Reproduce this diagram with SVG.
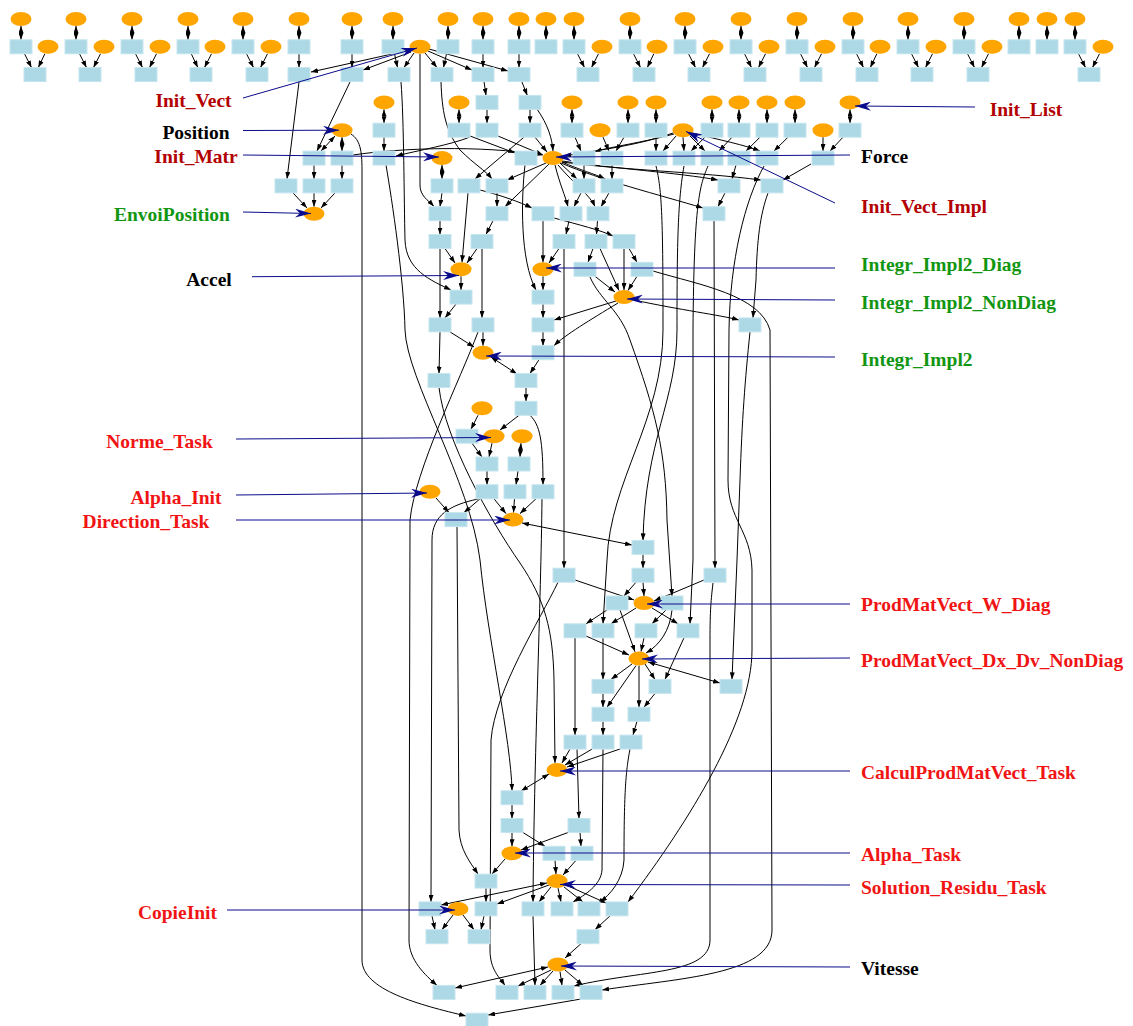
<svg xmlns="http://www.w3.org/2000/svg" width="1133" height="1026" viewBox="0 0 1133 1026">
<style>
.r{fill:#add8e6;stroke:#c6e6ef;stroke-width:1}
.e{fill:#ffa500}
.ed path{fill:none;stroke:#000;stroke-width:1;marker-end:url(#a)}
.ed path.bi{marker-start:url(#a)}
.bl path{fill:none;stroke:#0c0c8c;stroke-width:1;marker-end:url(#b)}
.t{font-family:"Liberation Serif","Times New Roman",serif;font-weight:bold;font-size:19.5px}
.dr{fill:#b30000}.rd{fill:#f01414}.gn{fill:#129612}.bk{fill:#000}
</style>
<defs>
<marker id="a" markerUnits="userSpaceOnUse" markerWidth="7" markerHeight="5" refX="7" refY="2.5" orient="auto-start-reverse"><path d="M0,0 L7,2.5 L0,5 z" fill="#000"/></marker>
<marker id="b" markerUnits="userSpaceOnUse" markerWidth="16" markerHeight="9" refX="16" refY="4.5" orient="auto"><path d="M0,0 L16,4.5 L0,9 L5,4.5 z" fill="#0a0a8c"/></marker>
</defs>
<rect width="1133" height="1026" fill="#fff"/>
<g id="connectors" class="ed">
<path class="bi" d="M21,26 L21,39.8"/><path class="bi" d="M76,26 L76,39.8"/><path class="bi" d="M132,26 L132,39.8"/><path class="bi" d="M188,26 L188,39.8"/><path class="bi" d="M243,26 L243,39.8"/><path class="bi" d="M299,26 L299,39.8"/><path class="bi" d="M352,26 L352,39.8"/><path class="bi" d="M393,26 L393,39.8"/><path class="bi" d="M448,26 L448,39.8"/><path class="bi" d="M483,26 L483,39.8"/><path class="bi" d="M519,26 L519,39.8"/><path class="bi" d="M546,26 L546,39.8"/><path class="bi" d="M574,26 L574,39.8"/><path class="bi" d="M630,26 L630,39.8"/><path class="bi" d="M685,26 L685,39.8"/><path class="bi" d="M741,26 L741,39.8"/><path class="bi" d="M797,26 L797,39.8"/><path class="bi" d="M853,26 L853,39.8"/><path class="bi" d="M908,26 L908,39.8"/><path class="bi" d="M964,26 L964,39.8"/><path class="bi" d="M1019,26 L1019,39.8"/><path class="bi" d="M1047,26 L1047,39.8"/><path class="bi" d="M1075,26 L1075,39.8"/>
<path d="M24.5,53.8 L31.5,67.6"/><path d="M44.8,53.8 L38.3,67.6"/>
<path d="M79.5,53.8 L86.5,67.6"/><path d="M100.5,53.8 L93.5,67.6"/>
<path d="M135.5,53.8 L142.5,67.6"/><path d="M156.5,53.8 L149.5,67.6"/>
<path d="M191.3,53.8 L197.8,67.6"/><path d="M211.5,53.8 L204.5,67.6"/>
<path d="M246.5,53.8 L253.5,67.6"/><path d="M267.5,53.8 L260.5,67.6"/>
<path d="M577.5,53.8 L584.5,67.6"/><path d="M598.5,53.8 L591.5,67.6"/>
<path d="M633.5,53.8 L640.5,67.6"/><path d="M653.8,53.8 L647.3,67.6"/>
<path d="M688.5,53.8 L695.5,67.6"/><path d="M709.5,53.8 L702.5,67.6"/>
<path d="M744.5,53.8 L751.5,67.6"/><path d="M765.5,53.8 L758.5,67.6"/>
<path d="M800.5,53.8 L807.5,67.6"/><path d="M821.5,53.8 L814.5,67.6"/>
<path d="M856.5,53.8 L863.5,67.6"/><path d="M876.8,53.8 L870.3,67.6"/>
<path d="M911.5,53.8 L918.5,67.6"/><path d="M932.5,53.8 L925.5,67.6"/>
<path d="M967.5,53.8 L974.5,67.6"/><path d="M988.5,53.8 L981.5,67.6"/>
<path d="M1078.5,53.8 L1085.5,67.6"/><path d="M1099.5,53.8 L1092.5,67.6"/>
<path d="M299,53.8 L299,67.6"/><path d="M352,53.8 L352,67.6"/><path d="M394.5,53.8 L397.5,67.6"/><path d="M446.5,53.8 L443.5,67.6"/><path d="M483,53.8 L483,67.6"/><path d="M519,53.8 L519,67.6"/>
<path d="M410,50 L311,72"/><path d="M411,52 L363,70"/><path d="M414,53 L404,67.6"/><path d="M425,53 L437,67.6"/><path d="M428,51 L472,70"/><path d="M429,49 L508,71"/>
<path d="M420,54 L420,185 C420,196 428,200 434,206.5"/>
<path d="M484,81.6 L486,95.4"/><path d="M521.8,81.6 L527.3,95.4"/>
<path d="M299,82 L287,178.9"/><path d="M350,82 L317,151"/>
<path d="M401,82 C404,120 404,200 405,240 C406,270 430,280 451,290"/>
<path d="M441,82 C442,110 445,130 460,150 C475,165 485,170 492,178.9"/>
<path class="bi" d="M384,109.4 L384,123.2"/><path class="bi" d="M459,109.4 L459,123.2"/><path d="M487,109.4 L487,123.2"/><path d="M530,109.4 L530,123.2"/>
<path class="bi" d="M572,109.4 L572,123.2"/><path class="bi" d="M628,109.4 L628,123.2"/><path class="bi" d="M656,109.4 L656,123.2"/><path class="bi" d="M712,109.4 L712,123.2"/><path class="bi" d="M739,109.4 L739,123.2"/><path class="bi" d="M767,109.4 L767,123.2"/><path class="bi" d="M795,109.4 L795,123.2"/><path class="bi" d="M850,109.4 L850,123.2"/>
<path d="M537,109 C548,125 552,138 553,151"/>
<path d="M384,137.2 L384,151.1"/>
<path class="bi" d="M335,136 L321,151.1"/><path class="bi" d="M342,137.2 L342,151.1"/>
<path d="M470,136 L515,153"/><path d="M498,136 L543,155"/><path d="M535,137.2 L547,152"/><path d="M524,137.2 L475,178.9"/>
<path d="M470,137 C450,145 420,150 396,156"/>
<path d="M575,137.2 L581,151.1"/><path d="M603,137.2 L609,151.1"/><path d="M624,137.2 L616,151.1"/><path d="M656,137.2 L656,151.1"/>
<path d="M676,136 L663,151.1"/><path d="M683,137.2 L684,151.1"/><path d="M690,136 L705,151.1"/>
<path d="M705,137.2 L691,151.1"/><path d="M732,137.2 L719,151.1"/><path d="M760,137.2 L746,151.1"/><path d="M788,137.2 L774,151.1"/>
<path d="M823,137.2 L823,151.1"/><path d="M843,137.2 L830,151.1"/>
<path d="M673,133 C640,145 600,150 564,156"/><path d="M674,134 C640,143 615,146 595,151.5"/><path d="M692,133 C720,140 745,145 760,151.1"/>
<path d="M353,155 C400,148 480,145 542,155"/>
<path d="M351,134 C360,140 362,150 362,170 L362,960 C362,990 420,1005 466,1016"/>
<path d="M386,165 C392,200 404,280 405,330 C407,380 470,480 480,560 C488,640 511,740 512,790.7"/>
<path d="M314,165.1 L314,178.9"/><path d="M342,165.1 L342,178.9"/><path class="bi" d="M442,165.1 L442,178.9"/><path d="M584,165.1 L584,178.9"/><path d="M612,165.1 L612,178.9"/>
<path d="M811,164 L783,180"/><path d="M736,165.1 L732,178.9"/>
<path d="M562,162 C620,170 700,172 761,180"/><path d="M562,161 C610,168 680,173 718,180"/><path d="M561,163 C600,180 660,195 703,208"/>
<path d="M560,163 L577,178.9"/><path d="M562,162 C580,170 595,174 605,178.9"/>
<path d="M546,163 L507,180"/><path d="M549,164 L505,206.7"/>
<path d="M555,165 C560,185 565,195 568,206.7"/><path d="M558,165 C575,185 590,195 595,206.7"/>
<path d="M293,192.9 L307,208"/><path d="M314,192.9 L314,206.7"/><path d="M335,192.9 L321,208"/>
<path d="M442,192.9 L440,206.7"/><path d="M497,192.9 L497,206.7"/><path d="M581,192.9 L574,206.7"/><path d="M609,192.9 L601,206.7"/><path d="M725,192.9 L718,206.7"/>
<path d="M468,192.9 L462,262.3"/><path d="M480,190 C500,195 520,202 532,208"/>
<path d="M440,220.7 L440,234.5"/><path d="M493,220.7 L486,234.5"/><path d="M569,220.7 L566,234.5"/><path d="M597.5,220.7 L596.5,234.5"/>
<path d="M543,220.7 L543,262.3"/><path d="M554,218 C580,225 600,230 613,236"/>
<path d="M445,248.5 L455,263"/><path d="M477,248.5 L467,263"/><path d="M559,248.5 L549,263"/><path d="M593,248.5 L588,262.3"/><path d="M600,248.5 L619,290.5"/><path d="M624,248.5 L624,290.1"/><path d="M629,248.5 L637,262.3"/>
<path d="M525,165 C521,200 520,260 536,290.1"/>
<path d="M440,248.5 L440,317.9"/><path d="M482,248.5 L482,317.9"/>
<path d="M564,248.5 L564,568.2"/>
<path d="M461,276.3 L461,290.1"/><path d="M543,276.3 L543,290.1"/><path d="M595,276.3 L615,292"/><path d="M637,276.3 L628,290.5"/>
<path d="M653,271 C700,285 760,295 770,330 L772,930 C772,975 680,978 602,990"/>
<path d="M456,304.1 L445,317.9"/><path d="M543,304.1 L543,317.9"/>
<path d="M616,301 L554,320"/><path d="M618,303 C590,320 565,335 554,345.7"/><path d="M634,300 C680,310 720,315 739,320"/>
<path d="M768,193 C760,215 757,240 756,280 L753,317.9"/>
<path d="M764,166 C745,200 730,260 729,330 L728,480 C728,520 751,530 752,570 L752,650 C752,720 690,820 628,902"/>
<path d="M750,332 C745,380 742,420 740,480 L737,560 L732,679.4"/>
<path d="M656,166 C662,190 663,220 663,330 C663,420 610,480 607,560 L603,623.8"/>
<path d="M684,166 C678,200 677,240 677,330 C677,400 645,440 643,540.4"/>
<path d="M590,277 C600,300 620,310 630,340 C655,410 666,450 667,520 L672,596"/>
<path d="M708,166 C700,185 694,200 693,330 L693,560 L690,623.8"/>
<path d="M714,221 L715,568.2"/>
<path d="M450,331.9 L474,347"/><path d="M483,331.9 L483,345.7"/><path d="M543,331.9 L543,345.7"/>
<path d="M440,331.9 L439,373.5"/><path d="M539,359.7 L530,373.5"/>
<path class="bi" d="M491,357 L517,374"/>
<path d="M478,332 C460,380 415,470 410,520 L409,940 C409,960 425,975 437,985.4"/>
<path d="M439,387.5 C445,440 490,520 520,563 C545,600 553,630 554,680 L555,762.9"/>
<path d="M526,387.5 L526,401.3"/>
<path d="M519,415.3 L500,430"/><path d="M478,415.3 L471,429.2"/>
<path d="M530,415.3 C540,425 543,440 543,484.8"/>
<path d="M472,443.2 L482,457"/><path d="M492,443.2 L489,457"/><path class="bi" d="M521,443.2 L520,457"/>
<path d="M487,471 L487,484.8"/><path d="M518,471 L516,484.8"/>
<path d="M494,498.8 L506,513.6"/><path d="M514.5,498.8 L513.5,512.6"/><path d="M536,498.8 L520,513.6"/>
<path d="M436,498 L449,512.6"/><path d="M480,498.8 L464,512.6"/>
<path d="M478,499 C450,505 432,515 432,540 L431,901.9"/>
<path d="M457,526.6 L459,830 C460,850 470,862 478,874.1"/>
<path d="M542,498.8 C541,600 534,760 533,901.9"/>
<path class="bi" d="M522,523 L632,545"/>
<path d="M643,554.4 L643,568.2"/>
<path d="M558,582.2 C540,620 495,690 491,740 L490,950 C490,970 500,978 505,985.4"/>
<path d="M575,580 L634,600"/><path d="M643,582.2 L644,596"/><path d="M636,582.2 L624,596"/><path d="M704,580 L654,601"/>
<path d="M607,610 L586,623.8"/><path d="M636,608 L611,623.8"/><path d="M652,608 L678,623.8"/><path d="M666,610 L652,623.8"/>
<path d="M620,610 L635,651.8"/><path d="M672,610 C670,630 660,645 646,653"/><path d="M644,637.8 L641,651.6"/><path d="M586,636 L629,655"/>
<path d="M575,637.8 L575,735.1"/><path d="M603,637.8 L603,679.4"/>
<path d="M632,664 L611,679.4"/><path d="M636,665.6 L607,707.3"/><path d="M639,665.6 L639,707.3"/><path d="M645,664 L655,679.4"/><path d="M684,637.8 L665,679.4"/>
<path class="bi" d="M648,662 L720,683"/>
<path d="M603,693.4 L603,707.3"/><path d="M655,693.4 L644,707.3"/>
<path d="M603,721.3 L603,735.1"/><path d="M637,721.3 L633,735.1"/>
<path d="M713,583 C711,600 710,610 710,640 L710,940 C710,975 640,970 574,986"/>
<path d="M570,749.1 L562,763"/><path d="M592,749.1 L565,765"/><path d="M620,749 L567,767"/>
<path d="M577,749.1 L579,818.5"/>
<path d="M603,749.1 L602,870 C601,885 585,895 573,901.9"/>
<path d="M630,749 C626,770 624,790 624,860 C623,880 610,895 600,901.9"/>
<path class="bi" d="M549,774 L521,791"/>
<path d="M512,804.7 L512,818.5"/>
<path d="M512,832.5 L512,846.3"/><path d="M568,832.5 L521,850"/><path d="M523,832.5 L545,846.3"/><path d="M580,832.5 L581,846.3"/>
<path d="M505,859 L492,874.1"/><path d="M555,860.3 L556,874.1"/><path d="M576,860.3 L563,875"/>
<path d="M486,888.1 L486,901.9"/>
<path class="bi" d="M547,883 L441,905"/><path d="M549,885 L497,904"/><path d="M551,887 L539,901.9"/><path d="M558,888.1 L561,901.9"/><path d="M564,887 L583,901.9"/><path d="M566,885 L606,903"/>
<path d="M533,915.9 L535,985.4"/>
<path d="M432,915.9 L435,929.7"/><path d="M453,915 L442,929.7"/><path d="M463,915 L474,929.7"/><path d="M484,915.9 L481,929.7"/><path d="M610,915.9 L595,929.7"/>
<path d="M581,943.7 L565,958"/>
<path class="bi" d="M548,967 L455,988"/><path d="M551,970 L518,986"/><path d="M553,971 L540,985.4"/><path d="M560,971.5 L562,985.4"/><path d="M565,970 L583,985.4"/>
<path d="M581,999 L488,1015"/>
</g>
<g id="nodes">
<g id="e0_21"><ellipse class="e" cx="21" cy="19" rx="10.5" ry="7"/></g>
<g id="e0_76"><ellipse class="e" cx="76" cy="19" rx="10.5" ry="7"/></g>
<g id="e0_132"><ellipse class="e" cx="132" cy="19" rx="10.5" ry="7"/></g>
<g id="e0_188"><ellipse class="e" cx="188" cy="19" rx="10.5" ry="7"/></g>
<g id="e0_243"><ellipse class="e" cx="243" cy="19" rx="10.5" ry="7"/></g>
<g id="e0_299"><ellipse class="e" cx="299" cy="19" rx="10.5" ry="7"/></g>
<g id="e0_352"><ellipse class="e" cx="352" cy="19" rx="10.5" ry="7"/></g>
<g id="e0_393"><ellipse class="e" cx="393" cy="19" rx="10.5" ry="7"/></g>
<g id="e0_448"><ellipse class="e" cx="448" cy="19" rx="10.5" ry="7"/></g>
<g id="e0_483"><ellipse class="e" cx="483" cy="19" rx="10.5" ry="7"/></g>
<g id="e0_519"><ellipse class="e" cx="519" cy="19" rx="10.5" ry="7"/></g>
<g id="e0_546"><ellipse class="e" cx="546" cy="19" rx="10.5" ry="7"/></g>
<g id="e0_574"><ellipse class="e" cx="574" cy="19" rx="10.5" ry="7"/></g>
<g id="e0_630"><ellipse class="e" cx="630" cy="19" rx="10.5" ry="7"/></g>
<g id="e0_685"><ellipse class="e" cx="685" cy="19" rx="10.5" ry="7"/></g>
<g id="e0_741"><ellipse class="e" cx="741" cy="19" rx="10.5" ry="7"/></g>
<g id="e0_797"><ellipse class="e" cx="797" cy="19" rx="10.5" ry="7"/></g>
<g id="e0_853"><ellipse class="e" cx="853" cy="19" rx="10.5" ry="7"/></g>
<g id="e0_908"><ellipse class="e" cx="908" cy="19" rx="10.5" ry="7"/></g>
<g id="e0_964"><ellipse class="e" cx="964" cy="19" rx="10.5" ry="7"/></g>
<g id="e0_1019"><ellipse class="e" cx="1019" cy="19" rx="10.5" ry="7"/></g>
<g id="e0_1047"><ellipse class="e" cx="1047" cy="19" rx="10.5" ry="7"/></g>
<g id="e0_1075"><ellipse class="e" cx="1075" cy="19" rx="10.5" ry="7"/></g>
<g id="r1_21"><rect class="r" x="10" y="39.8" width="22" height="14"/></g>
<g id="r1_76"><rect class="r" x="65" y="39.8" width="22" height="14"/></g>
<g id="r1_132"><rect class="r" x="121" y="39.8" width="22" height="14"/></g>
<g id="r1_188"><rect class="r" x="177" y="39.8" width="22" height="14"/></g>
<g id="r1_243"><rect class="r" x="232" y="39.8" width="22" height="14"/></g>
<g id="r1_299"><rect class="r" x="288" y="39.8" width="22" height="14"/></g>
<g id="r1_352"><rect class="r" x="341" y="39.8" width="22" height="14"/></g>
<g id="r1_393"><rect class="r" x="382" y="39.8" width="22" height="14"/></g>
<g id="r1_448"><rect class="r" x="437" y="39.8" width="22" height="14"/></g>
<g id="r1_483"><rect class="r" x="472" y="39.8" width="22" height="14"/></g>
<g id="r1_519"><rect class="r" x="508" y="39.8" width="22" height="14"/></g>
<g id="r1_546"><rect class="r" x="535" y="39.8" width="22" height="14"/></g>
<g id="r1_574"><rect class="r" x="563" y="39.8" width="22" height="14"/></g>
<g id="r1_630"><rect class="r" x="619" y="39.8" width="22" height="14"/></g>
<g id="r1_685"><rect class="r" x="674" y="39.8" width="22" height="14"/></g>
<g id="r1_741"><rect class="r" x="730" y="39.8" width="22" height="14"/></g>
<g id="r1_797"><rect class="r" x="786" y="39.8" width="22" height="14"/></g>
<g id="r1_853"><rect class="r" x="842" y="39.8" width="22" height="14"/></g>
<g id="r1_908"><rect class="r" x="897" y="39.8" width="22" height="14"/></g>
<g id="r1_964"><rect class="r" x="953" y="39.8" width="22" height="14"/></g>
<g id="r1_1019"><rect class="r" x="1008" y="39.8" width="22" height="14"/></g>
<g id="r1_1047"><rect class="r" x="1036" y="39.8" width="22" height="14"/></g>
<g id="r1_1075"><rect class="r" x="1064" y="39.8" width="22" height="14"/></g>
<g id="e1_48"><ellipse class="e" cx="48" cy="46.8" rx="10.5" ry="7"/></g>
<g id="e1_104"><ellipse class="e" cx="104" cy="46.8" rx="10.5" ry="7"/></g>
<g id="e1_160"><ellipse class="e" cx="160" cy="46.8" rx="10.5" ry="7"/></g>
<g id="e1_215"><ellipse class="e" cx="215" cy="46.8" rx="10.5" ry="7"/></g>
<g id="e1_271"><ellipse class="e" cx="271" cy="46.8" rx="10.5" ry="7"/></g>
<g id="e1_420"><ellipse class="e" cx="420" cy="46.8" rx="10.5" ry="7"/></g>
<g id="e1_602"><ellipse class="e" cx="602" cy="46.8" rx="10.5" ry="7"/></g>
<g id="e1_657"><ellipse class="e" cx="657" cy="46.8" rx="10.5" ry="7"/></g>
<g id="e1_713"><ellipse class="e" cx="713" cy="46.8" rx="10.5" ry="7"/></g>
<g id="e1_769"><ellipse class="e" cx="769" cy="46.8" rx="10.5" ry="7"/></g>
<g id="e1_825"><ellipse class="e" cx="825" cy="46.8" rx="10.5" ry="7"/></g>
<g id="e1_880"><ellipse class="e" cx="880" cy="46.8" rx="10.5" ry="7"/></g>
<g id="e1_936"><ellipse class="e" cx="936" cy="46.8" rx="10.5" ry="7"/></g>
<g id="e1_992"><ellipse class="e" cx="992" cy="46.8" rx="10.5" ry="7"/></g>
<g id="e1_1103"><ellipse class="e" cx="1103" cy="46.8" rx="10.5" ry="7"/></g>
<g id="r2_35"><rect class="r" x="24" y="67.6" width="22" height="14"/></g>
<g id="r2_90"><rect class="r" x="79" y="67.6" width="22" height="14"/></g>
<g id="r2_146"><rect class="r" x="135" y="67.6" width="22" height="14"/></g>
<g id="r2_201"><rect class="r" x="190" y="67.6" width="22" height="14"/></g>
<g id="r2_257"><rect class="r" x="246" y="67.6" width="22" height="14"/></g>
<g id="r2_299"><rect class="r" x="288" y="67.6" width="22" height="14"/></g>
<g id="r2_352"><rect class="r" x="341" y="67.6" width="22" height="14"/></g>
<g id="r2_399"><rect class="r" x="388" y="67.6" width="22" height="14"/></g>
<g id="r2_442"><rect class="r" x="431" y="67.6" width="22" height="14"/></g>
<g id="r2_483"><rect class="r" x="472" y="67.6" width="22" height="14"/></g>
<g id="r2_519"><rect class="r" x="508" y="67.6" width="22" height="14"/></g>
<g id="r2_588"><rect class="r" x="577" y="67.6" width="22" height="14"/></g>
<g id="r2_644"><rect class="r" x="633" y="67.6" width="22" height="14"/></g>
<g id="r2_699"><rect class="r" x="688" y="67.6" width="22" height="14"/></g>
<g id="r2_755"><rect class="r" x="744" y="67.6" width="22" height="14"/></g>
<g id="r2_811"><rect class="r" x="800" y="67.6" width="22" height="14"/></g>
<g id="r2_867"><rect class="r" x="856" y="67.6" width="22" height="14"/></g>
<g id="r2_922"><rect class="r" x="911" y="67.6" width="22" height="14"/></g>
<g id="r2_978"><rect class="r" x="967" y="67.6" width="22" height="14"/></g>
<g id="r2_1089"><rect class="r" x="1078" y="67.6" width="22" height="14"/></g>
<g id="e3_384"><ellipse class="e" cx="384" cy="102.4" rx="10.5" ry="7"/></g>
<g id="e3_459"><ellipse class="e" cx="459" cy="102.4" rx="10.5" ry="7"/></g>
<g id="r3_487"><rect class="r" x="476" y="95.4" width="22" height="14"/></g>
<g id="r3_530"><rect class="r" x="519" y="95.4" width="22" height="14"/></g>
<g id="e3_572"><ellipse class="e" cx="572" cy="102.4" rx="10.5" ry="7"/></g>
<g id="e3_628"><ellipse class="e" cx="628" cy="102.4" rx="10.5" ry="7"/></g>
<g id="e3_656"><ellipse class="e" cx="656" cy="102.4" rx="10.5" ry="7"/></g>
<g id="e3_712"><ellipse class="e" cx="712" cy="102.4" rx="10.5" ry="7"/></g>
<g id="e3_739"><ellipse class="e" cx="739" cy="102.4" rx="10.5" ry="7"/></g>
<g id="e3_767"><ellipse class="e" cx="767" cy="102.4" rx="10.5" ry="7"/></g>
<g id="e3_795"><ellipse class="e" cx="795" cy="102.4" rx="10.5" ry="7"/></g>
<g id="e3_850"><ellipse class="e" cx="850" cy="102.4" rx="10.5" ry="7"/></g>
<g id="e4_342"><ellipse class="e" cx="342" cy="130.2" rx="10.5" ry="7"/></g>
<g id="r4_384"><rect class="r" x="373" y="123.2" width="22" height="14"/></g>
<g id="r4_459"><rect class="r" x="448" y="123.2" width="22" height="14"/></g>
<g id="r4_487"><rect class="r" x="476" y="123.2" width="22" height="14"/></g>
<g id="r4_530"><rect class="r" x="519" y="123.2" width="22" height="14"/></g>
<g id="r4_572"><rect class="r" x="561" y="123.2" width="22" height="14"/></g>
<g id="e4_600"><ellipse class="e" cx="600" cy="130.2" rx="10.5" ry="7"/></g>
<g id="r4_628"><rect class="r" x="617" y="123.2" width="22" height="14"/></g>
<g id="r4_656"><rect class="r" x="645" y="123.2" width="22" height="14"/></g>
<g id="e4_683"><ellipse class="e" cx="683" cy="130.2" rx="10.5" ry="7"/></g>
<g id="r4_712"><rect class="r" x="701" y="123.2" width="22" height="14"/></g>
<g id="r4_739"><rect class="r" x="728" y="123.2" width="22" height="14"/></g>
<g id="r4_767"><rect class="r" x="756" y="123.2" width="22" height="14"/></g>
<g id="r4_795"><rect class="r" x="784" y="123.2" width="22" height="14"/></g>
<g id="e4_823"><ellipse class="e" cx="823" cy="130.2" rx="10.5" ry="7"/></g>
<g id="r4_850"><rect class="r" x="839" y="123.2" width="22" height="14"/></g>
<g id="r5_314"><rect class="r" x="303" y="151.1" width="22" height="14"/></g>
<g id="r5_342"><rect class="r" x="331" y="151.1" width="22" height="14"/></g>
<g id="r5_384"><rect class="r" x="373" y="151.1" width="22" height="14"/></g>
<g id="e5_442"><ellipse class="e" cx="442" cy="158.1" rx="10.5" ry="7"/></g>
<g id="r5_526"><rect class="r" x="515" y="151.1" width="22" height="14"/></g>
<g id="e5_553"><ellipse class="e" cx="553" cy="158.1" rx="10.5" ry="7"/></g>
<g id="r5_584"><rect class="r" x="573" y="151.1" width="22" height="14"/></g>
<g id="r5_612"><rect class="r" x="601" y="151.1" width="22" height="14"/></g>
<g id="r5_656"><rect class="r" x="645" y="151.1" width="22" height="14"/></g>
<g id="r5_684"><rect class="r" x="673" y="151.1" width="22" height="14"/></g>
<g id="r5_712"><rect class="r" x="701" y="151.1" width="22" height="14"/></g>
<g id="r5_739"><rect class="r" x="728" y="151.1" width="22" height="14"/></g>
<g id="r5_767"><rect class="r" x="756" y="151.1" width="22" height="14"/></g>
<g id="r5_823"><rect class="r" x="812" y="151.1" width="22" height="14"/></g>
<g id="r6_286"><rect class="r" x="275" y="178.9" width="22" height="14"/></g>
<g id="r6_314"><rect class="r" x="303" y="178.9" width="22" height="14"/></g>
<g id="r6_342"><rect class="r" x="331" y="178.9" width="22" height="14"/></g>
<g id="r6_442"><rect class="r" x="431" y="178.9" width="22" height="14"/></g>
<g id="r6_469"><rect class="r" x="458" y="178.9" width="22" height="14"/></g>
<g id="r6_497"><rect class="r" x="486" y="178.9" width="22" height="14"/></g>
<g id="r6_584"><rect class="r" x="573" y="178.9" width="22" height="14"/></g>
<g id="r6_612"><rect class="r" x="601" y="178.9" width="22" height="14"/></g>
<g id="r6_729"><rect class="r" x="718" y="178.9" width="22" height="14"/></g>
<g id="r6_772"><rect class="r" x="761" y="178.9" width="22" height="14"/></g>
<g id="e7_314"><ellipse class="e" cx="314" cy="213.7" rx="10.5" ry="7"/></g>
<g id="r7_440"><rect class="r" x="429" y="206.7" width="22" height="14"/></g>
<g id="r7_497"><rect class="r" x="486" y="206.7" width="22" height="14"/></g>
<g id="r7_543"><rect class="r" x="532" y="206.7" width="22" height="14"/></g>
<g id="r7_571"><rect class="r" x="560" y="206.7" width="22" height="14"/></g>
<g id="r7_598"><rect class="r" x="587" y="206.7" width="22" height="14"/></g>
<g id="r7_714"><rect class="r" x="703" y="206.7" width="22" height="14"/></g>
<g id="r8_440"><rect class="r" x="429" y="234.5" width="22" height="14"/></g>
<g id="r8_482"><rect class="r" x="471" y="234.5" width="22" height="14"/></g>
<g id="r8_564"><rect class="r" x="553" y="234.5" width="22" height="14"/></g>
<g id="r8_596"><rect class="r" x="585" y="234.5" width="22" height="14"/></g>
<g id="r8_624"><rect class="r" x="613" y="234.5" width="22" height="14"/></g>
<g id="e9_461"><ellipse class="e" cx="461" cy="269.3" rx="10.5" ry="7"/></g>
<g id="e9_543"><ellipse class="e" cx="543" cy="269.3" rx="10.5" ry="7"/></g>
<g id="r9_585"><rect class="r" x="574" y="262.3" width="22" height="14"/></g>
<g id="r9_642"><rect class="r" x="631" y="262.3" width="22" height="14"/></g>
<g id="r10_461"><rect class="r" x="450" y="290.1" width="22" height="14"/></g>
<g id="r10_543"><rect class="r" x="532" y="290.1" width="22" height="14"/></g>
<g id="e10_624"><ellipse class="e" cx="624" cy="297.1" rx="10.5" ry="7"/></g>
<g id="r11_440"><rect class="r" x="429" y="317.9" width="22" height="14"/></g>
<g id="r11_483"><rect class="r" x="472" y="317.9" width="22" height="14"/></g>
<g id="r11_543"><rect class="r" x="532" y="317.9" width="22" height="14"/></g>
<g id="r11_750"><rect class="r" x="739" y="317.9" width="22" height="14"/></g>
<g id="e12_483"><ellipse class="e" cx="483" cy="352.7" rx="10.5" ry="7"/></g>
<g id="r12_543"><rect class="r" x="532" y="345.7" width="22" height="14"/></g>
<g id="r13_439"><rect class="r" x="428" y="373.5" width="22" height="14"/></g>
<g id="r13_526"><rect class="r" x="515" y="373.5" width="22" height="14"/></g>
<g id="e14_482"><ellipse class="e" cx="482" cy="408.3" rx="10.5" ry="7"/></g>
<g id="r14_526"><rect class="r" x="515" y="401.3" width="22" height="14"/></g>
<g id="r15_467"><rect class="r" x="456" y="429.2" width="22" height="14"/></g>
<g id="e15_494"><ellipse class="e" cx="494" cy="436.2" rx="10.5" ry="7"/></g>
<g id="e15_522"><ellipse class="e" cx="522" cy="436.2" rx="10.5" ry="7"/></g>
<g id="r16_487"><rect class="r" x="476" y="457" width="22" height="14"/></g>
<g id="r16_519"><rect class="r" x="508" y="457" width="22" height="14"/></g>
<g id="e17_430"><ellipse class="e" cx="430" cy="491.8" rx="10.5" ry="7"/></g>
<g id="r17_487"><rect class="r" x="476" y="484.8" width="22" height="14"/></g>
<g id="r17_515"><rect class="r" x="504" y="484.8" width="22" height="14"/></g>
<g id="r17_543"><rect class="r" x="532" y="484.8" width="22" height="14"/></g>
<g id="r18_456"><rect class="r" x="445" y="512.6" width="22" height="14"/></g>
<g id="e18_513"><ellipse class="e" cx="513" cy="519.6" rx="10.5" ry="7"/></g>
<g id="r19_643"><rect class="r" x="632" y="540.4" width="22" height="14"/></g>
<g id="r20_564"><rect class="r" x="553" y="568.2" width="22" height="14"/></g>
<g id="r20_643"><rect class="r" x="632" y="568.2" width="22" height="14"/></g>
<g id="r20_715"><rect class="r" x="704" y="568.2" width="22" height="14"/></g>
<g id="r21_617"><rect class="r" x="606" y="596" width="22" height="14"/></g>
<g id="e21_644"><ellipse class="e" cx="644" cy="603" rx="10.5" ry="7"/></g>
<g id="r21_672"><rect class="r" x="661" y="596" width="22" height="14"/></g>
<g id="r22_575"><rect class="r" x="564" y="623.8" width="22" height="14"/></g>
<g id="r22_603"><rect class="r" x="592" y="623.8" width="22" height="14"/></g>
<g id="r22_646"><rect class="r" x="635" y="623.8" width="22" height="14"/></g>
<g id="r22_688"><rect class="r" x="677" y="623.8" width="22" height="14"/></g>
<g id="e23_639"><ellipse class="e" cx="639" cy="658.6" rx="10.5" ry="7"/></g>
<g id="r24_603"><rect class="r" x="592" y="679.4" width="22" height="14"/></g>
<g id="r24_660"><rect class="r" x="649" y="679.4" width="22" height="14"/></g>
<g id="r24_731"><rect class="r" x="720" y="679.4" width="22" height="14"/></g>
<g id="r25_603"><rect class="r" x="592" y="707.3" width="22" height="14"/></g>
<g id="r25_639"><rect class="r" x="628" y="707.3" width="22" height="14"/></g>
<g id="r26_575"><rect class="r" x="564" y="735.1" width="22" height="14"/></g>
<g id="r26_603"><rect class="r" x="592" y="735.1" width="22" height="14"/></g>
<g id="r26_631"><rect class="r" x="620" y="735.1" width="22" height="14"/></g>
<g id="e27_557"><ellipse class="e" cx="557" cy="769.9" rx="10.5" ry="7"/></g>
<g id="r28_512"><rect class="r" x="501" y="790.7" width="22" height="14"/></g>
<g id="r29_512"><rect class="r" x="501" y="818.5" width="22" height="14"/></g>
<g id="r29_579"><rect class="r" x="568" y="818.5" width="22" height="14"/></g>
<g id="e30_512"><ellipse class="e" cx="512" cy="853.3" rx="10.5" ry="7"/></g>
<g id="r30_554"><rect class="r" x="543" y="846.3" width="22" height="14"/></g>
<g id="r30_582"><rect class="r" x="571" y="846.3" width="22" height="14"/></g>
<g id="r31_486"><rect class="r" x="475" y="874.1" width="22" height="14"/></g>
<g id="e31_557"><ellipse class="e" cx="557" cy="881.1" rx="10.5" ry="7"/></g>
<g id="r32_430"><rect class="r" x="419" y="901.9" width="22" height="14"/></g>
<g id="e32_458"><ellipse class="e" cx="458" cy="908.9" rx="10.5" ry="7"/></g>
<g id="r32_486"><rect class="r" x="475" y="901.9" width="22" height="14"/></g>
<g id="r32_533"><rect class="r" x="522" y="901.9" width="22" height="14"/></g>
<g id="r32_562"><rect class="r" x="551" y="901.9" width="22" height="14"/></g>
<g id="r32_589"><rect class="r" x="578" y="901.9" width="22" height="14"/></g>
<g id="r32_617"><rect class="r" x="606" y="901.9" width="22" height="14"/></g>
<g id="r33_437"><rect class="r" x="426" y="929.7" width="22" height="14"/></g>
<g id="r33_479"><rect class="r" x="468" y="929.7" width="22" height="14"/></g>
<g id="r33_588"><rect class="r" x="577" y="929.7" width="22" height="14"/></g>
<g id="e34_558"><ellipse class="e" cx="558" cy="964.5" rx="10.5" ry="7"/></g>
<g id="r35_444"><rect class="r" x="433" y="985.4" width="22" height="14"/></g>
<g id="r35_507"><rect class="r" x="496" y="985.4" width="22" height="14"/></g>
<g id="r35_535"><rect class="r" x="524" y="985.4" width="22" height="14"/></g>
<g id="r35_563"><rect class="r" x="552" y="985.4" width="22" height="14"/></g>
<g id="r35_591"><rect class="r" x="580" y="985.4" width="22" height="14"/></g>
<g id="r36_477"><rect class="r" x="466" y="1013.2" width="22" height="14"/></g>
</g>
<g id="label-connectors" class="bl">
<path d="M243,98 L417,48"/>
<path d="M243,130.5 L339,130.2"/>
<path d="M243,155 L439,157"/>
<path d="M243,212 L311,213.5"/>
<path d="M252,276.7 L459,275.5"/>
<path d="M236,439 L491,437.5"/>
<path d="M236,495 L427,493"/>
<path d="M236,520 L510,520"/>
<path d="M227,910 L455,910"/>
<path d="M975,107 L855,106"/>
<path d="M850,155 L556,157"/>
<path d="M835,203 L686,131.5"/>
<path d="M835,268 L546,268"/>
<path d="M835,300 L627,299"/>
<path d="M835,357 L486,356"/>
<path d="M850,604 L647,604"/>
<path d="M850,658 L642,659"/>
<path d="M850,771 L560,771"/>
<path d="M850,853 L515,853"/>
<path d="M850,885 L560,884.5"/>
<path d="M850,967 L561,966"/>
</g>
<g id="labels" class="t">
<text class="dr" x="193.5" y="106.5" text-anchor="middle">Init_Vect</text>
<text class="bk" x="196" y="138.5" text-anchor="middle">Position</text>
<text class="dr" x="196" y="162.5" text-anchor="middle">Init_Matr</text>
<text class="gn" x="172" y="220.5" text-anchor="middle">EnvoiPosition</text>
<text class="bk" x="209" y="285.5" text-anchor="middle">Accel</text>
<text class="rd" x="159.5" y="447.5" text-anchor="middle">Norme_Task</text>
<text class="rd" x="176" y="503.5" text-anchor="middle">Alpha_Init</text>
<text class="rd" x="146" y="527.5" text-anchor="middle">Direction_Task</text>
<text class="rd" x="177.5" y="918.5" text-anchor="middle">CopieInit</text>
<text class="dr" x="1026" y="115.5" text-anchor="middle">Init_List</text>
<text class="bk" x="861" y="163">Force</text>
<text class="dr" x="861" y="212.5">Init_Vect_Impl</text>
<text class="gn" x="861" y="270.5">Integr_Impl2_Diag</text>
<text class="gn" x="861" y="308.5">Integr_Impl2_NonDiag</text>
<text class="gn" x="861" y="365.5">Integr_Impl2</text>
<text class="rd" x="861" y="610.5">ProdMatVect_W_Diag</text>
<text class="rd" x="861" y="666.5">ProdMatVect_Dx_Dv_NonDiag</text>
<text class="rd" x="861" y="779">CalculProdMatVect_Task</text>
<text class="rd" x="861" y="861">Alpha_Task</text>
<text class="rd" x="861" y="894">Solution_Residu_Task</text>
<text class="bk" x="861" y="975">Vitesse</text>
</g>
</svg>
